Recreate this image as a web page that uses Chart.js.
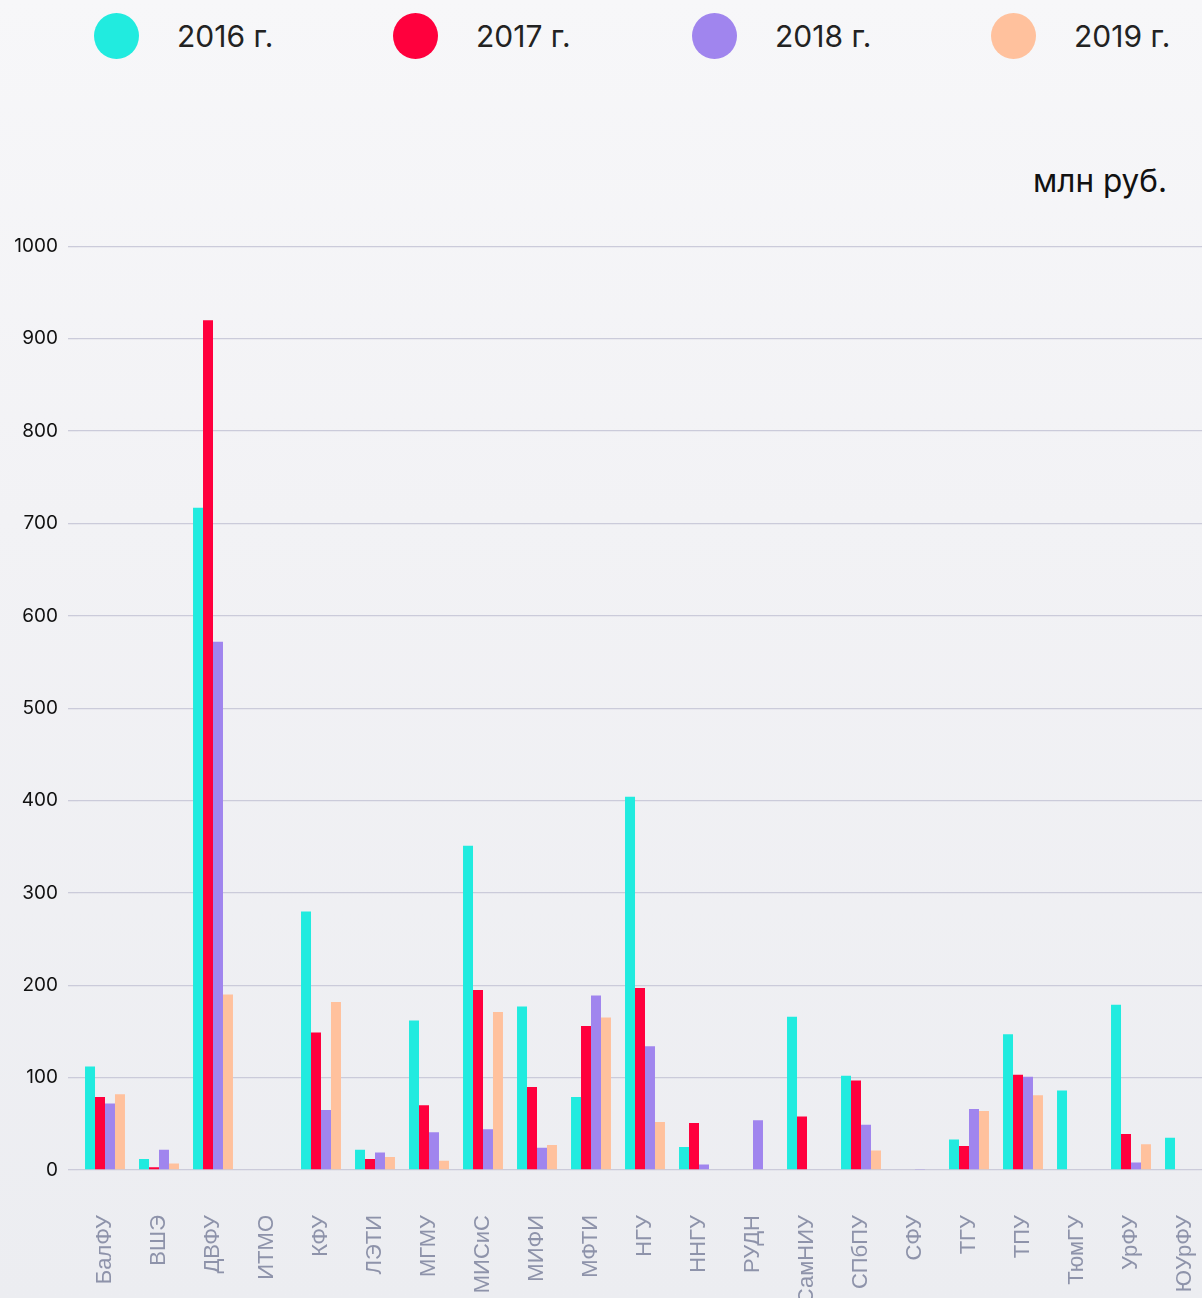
<!DOCTYPE html>
<html>
<head>
    <meta charset="utf-8">
    <title>Финансирование по вузам</title>
    <script src="https://cdn.jsdelivr.net/npm/chart.js"></script>
    <style>
        html, body {
            margin: 0;
            padding: 0;
            width: 1202px;
            height: 1298px;
            overflow: hidden;
            background: linear-gradient(to bottom, #f7f7f9 0%, #f2f2f5 40%, #ecedf1 100%);
            font-family: Inter, "Noto Sans", sans-serif;
        }
        .legend {
            position: absolute;
            top: 13px;
            left: 94px;
            display: grid;
            grid-template-columns: repeat(4, 299px);
        }
        .legend-item {
            display: flex;
            align-items: center;
            height: 46px;
        }
        .legend-dot {
            width: 45px;
            height: 46px;
            border-radius: 50%;
            margin-right: 38px;
        }
        .legend-text {
            font-size: 30px;
            color: #222;
        }
        .unit {
            position: absolute;
            top: 161px;
            right: 35px;
            font-size: 31.5px;
            color: #111;
        }
        #fundChart {
            position: absolute;
            left: 0;
            top: 225px;
        }
    </style>
</head>
<body>
    <div class="legend" id="legend"></div>
    <div class="unit">млн руб.</div>
    <canvas id="fundChart" width="1212" height="1095"></canvas>

    <script>
        const universities = ['БалФУ', 'ВШЭ', 'ДВФУ', 'ИТМО', 'КФУ', 'ЛЭТИ', 'МГМУ', 'МИСиС', 'МИФИ', 'МФТИ', 'НГУ',
            'ННГУ', 'РУДН', 'СамНИУ', 'СПбПУ', 'СФУ', 'ТГУ', 'ТПУ', 'ТюмГУ', 'УрФУ', 'ЮУрФУ'];
        const years = ['2016 г.', '2017 г.', '2018 г.', '2019 г.'];
        const colors = ['#21ebdf', '#ff003d', '#a085ee', '#ffc19d'];

        const values2016 = [112, 12, 717, null, 280, 22, 162, 351, 177, 79, 404, 25, null, 166, 102, null, 33, 147, 86, 179, 35];
        const values2017 = [79, 3, 920, null, 149, 12, 70, 195, 90, 156, 197, 51, null, 58, 97, null, 26, 103, null, 39, null];
        const values2018 = [72, 22, 572, null, 65, 19, 41, 44, 24, 189, 134, 6, 54, null, 49, 1, 66, 101, null, 8, null];
        const values2019 = [82, 7, 190, null, 182, 14, 10, 171, 27, 165, 52, null, null, null, 21, null, 64, 81, null, 28, null];
        const yTicksMax = 1000;
        const yStep = 100;

        const series = [values2016, values2017, values2018, values2019];

        // legend drawn as html, same colours as datasets
        const legendEl = document.getElementById('legend');
        years.forEach((y, i) => {
            const item = document.createElement('div');
            item.className = 'legend-item';
            item.innerHTML = '<div class="legend-dot" style="background:' + colors[i] + '"></div>' +
                '<div class="legend-text">' + y + '</div>';
            legendEl.appendChild(item);
        });

        const fundChart = new Chart(document.getElementById('fundChart').getContext('2d'), {
            type: 'bar',
            data: {
                labels: universities,
                datasets: series.map((vals, i) => ({
                    label: years[i],
                    data: vals,
                    backgroundColor: colors[i],
                    borderWidth: 0,
                    categoryPercentage: 0.74,
                    barPercentage: 1.0
                }))
            },
            options: {
                responsive: false,
                animation: false,
                layout: { padding: { top: 20, left: 0, right: 0, bottom: 0 } },
                plugins: {
                    legend: { display: false },
                    tooltip: { enabled: false }
                },
                scales: {
                    x: {
                        grid: { display: false, drawTicks: false },
                        border: { display: false },
                        ticks: {
                            autoSkip: false,
                            minRotation: 90,
                            maxRotation: 90,
                            padding: 45,
                            color: '#8e93aa',
                            font: { family: '"Liberation Sans", Arial, sans-serif', size: 22 }
                        },
                        afterFit: (scale) => {
                            scale.height = 150;
                            // the last rotated label would otherwise push the plot in from the right
                            scale.paddingLeft = 0;
                            scale.paddingRight = 0;
                        }
                    },
                    y: {
                        min: 0,
                        max: yTicksMax,
                        grid: {
                            color: '#cbcbda',
                            lineWidth: 1.3,
                            drawTicks: true,
                            tickLength: 10
                        },
                        border: { display: false },
                        ticks: {
                            stepSize: yStep,
                            padding: 10,
                            color: '#111',
                            font: { family: 'Inter, sans-serif', size: 19 },
                            callback: (v) => String(v)
                        },
                        afterFit: (scale) => { scale.width = 78; }
                    }
                }
            }
        });
    </script>
</body>
</html>
